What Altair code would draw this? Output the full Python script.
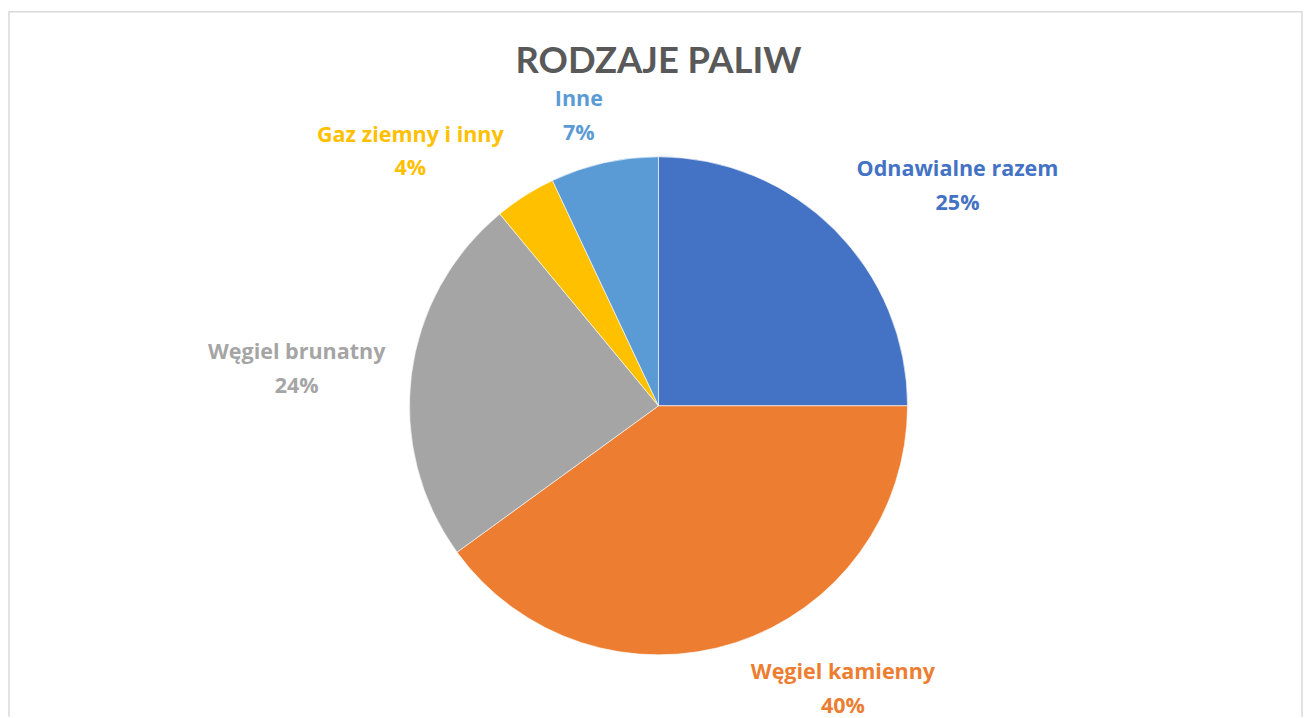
import math
import altair as alt
import pandas as pd

# ---- data ----
names = ["Odnawialne razem", "Węgiel kamienny", "Węgiel brunatny", "Gaz ziemny i inny", "Inne"]
values = [25, 40, 24, 4, 7]
colors = ["#4472C4", "#ED7D31", "#A5A5A5", "#FFC000", "#5B9BD5"]
title_text = "RODZAJE PALIW"

# ---- layout (label placement tweaks, pixels / degrees) ----
label_radius = [372, 340, 365, 356, 301]
label_shift_deg = [8.8, -15.0, -1.5, -12.0, -2.8]

W, H = 1300, 710
CX, CY, R = 653, 398, 250
LABEL_FONT = "Open Sans"
TITLE_FONT = "Lato"
LINE_H = 34

df = pd.DataFrame({
    "name": names,
    "value": values,
    "order": list(range(len(names))),
    "lr": label_radius,
    "shift": label_shift_deg,
})

color_scale = alt.Scale(domain=names, range=colors)
base = alt.Chart(df)

shadow1 = alt.Chart(alt.Data(values=[{"v": 1}])).mark_arc(
    outerRadius=R + 6, color="#000000", opacity=0.025
).encode(theta=alt.Theta("v:Q"), x=alt.value(CX), y=alt.value(CY + 3))
shadow2 = alt.Chart(alt.Data(values=[{"v": 1}])).mark_arc(
    outerRadius=R + 3, color="#000000", opacity=0.04
).encode(theta=alt.Theta("v:Q"), x=alt.value(CX), y=alt.value(CY + 2))

pie = base.mark_arc(outerRadius=R, stroke="#ffffff", strokeWidth=0.6).encode(
    theta=alt.Theta("value:Q", stack=True),
    order=alt.Order("order:Q"),
    color=alt.Color("name:N", scale=color_scale, legend=None),
    x=alt.value(CX),
    y=alt.value(CY),
)

labels = base.transform_window(
    cum="sum(value)", sort=[alt.SortField("order")]
).transform_joinaggregate(
    total="sum(value)"
).transform_calculate(
    mid="(datum.cum - datum.value/2) / datum.total * 2 * PI + datum.shift * PI / 180",
    lbl="datum.name + '\\n' + round(datum.value / datum.total * 100) + '%'",
).mark_text(
    font=LABEL_FONT, fontWeight="bold", fontSize=21.6, lineBreak="\n", lineHeight=LINE_H,
    align="center", baseline="middle", dy=-LINE_H / 2,
).encode(
    theta=alt.Theta("mid:Q", scale=None, stack=None),
    radius=alt.Radius("lr:Q", scale=None),
    text="lbl:N",
    color=alt.Color("name:N", scale=color_scale, legend=None),
    x=alt.value(CX),
    y=alt.value(CY),
)

title = alt.Chart(alt.Data(values=[{"t": title_text}])).mark_text(
    font=TITLE_FONT, fontWeight="bold", fontSize=36.5, color="#595959",
    align="center", baseline="alphabetic",
).encode(text="t:N", x=alt.value(CX), y=alt.value(64))

frame_data = alt.Data(values=[{"k": 1}])
frame_col = "#D9D9D9"
left = alt.Chart(frame_data).mark_rule(color=frame_col, strokeWidth=1.5).encode(
    x=alt.value(1), y=alt.value(2), y2=alt.value(H))
top = alt.Chart(frame_data).mark_rule(color=frame_col, strokeWidth=1.5).encode(
    x=alt.value(1), x2=alt.value(1299), y=alt.value(2.5))
right = alt.Chart(frame_data).mark_rule(color=frame_col, strokeWidth=1.5).encode(
    x=alt.value(1299), y=alt.value(2), y2=alt.value(H))

chart = alt.layer(shadow1, shadow2, pie, labels, title, left, top, right).properties(
    width=W, height=H, padding=0, autosize=alt.AutoSizeParams(type="none"),
    background="#ffffff",
).configure_view(stroke=None)

chart.save("out.html", embed_options={"renderer": "svg", "actions": False})
